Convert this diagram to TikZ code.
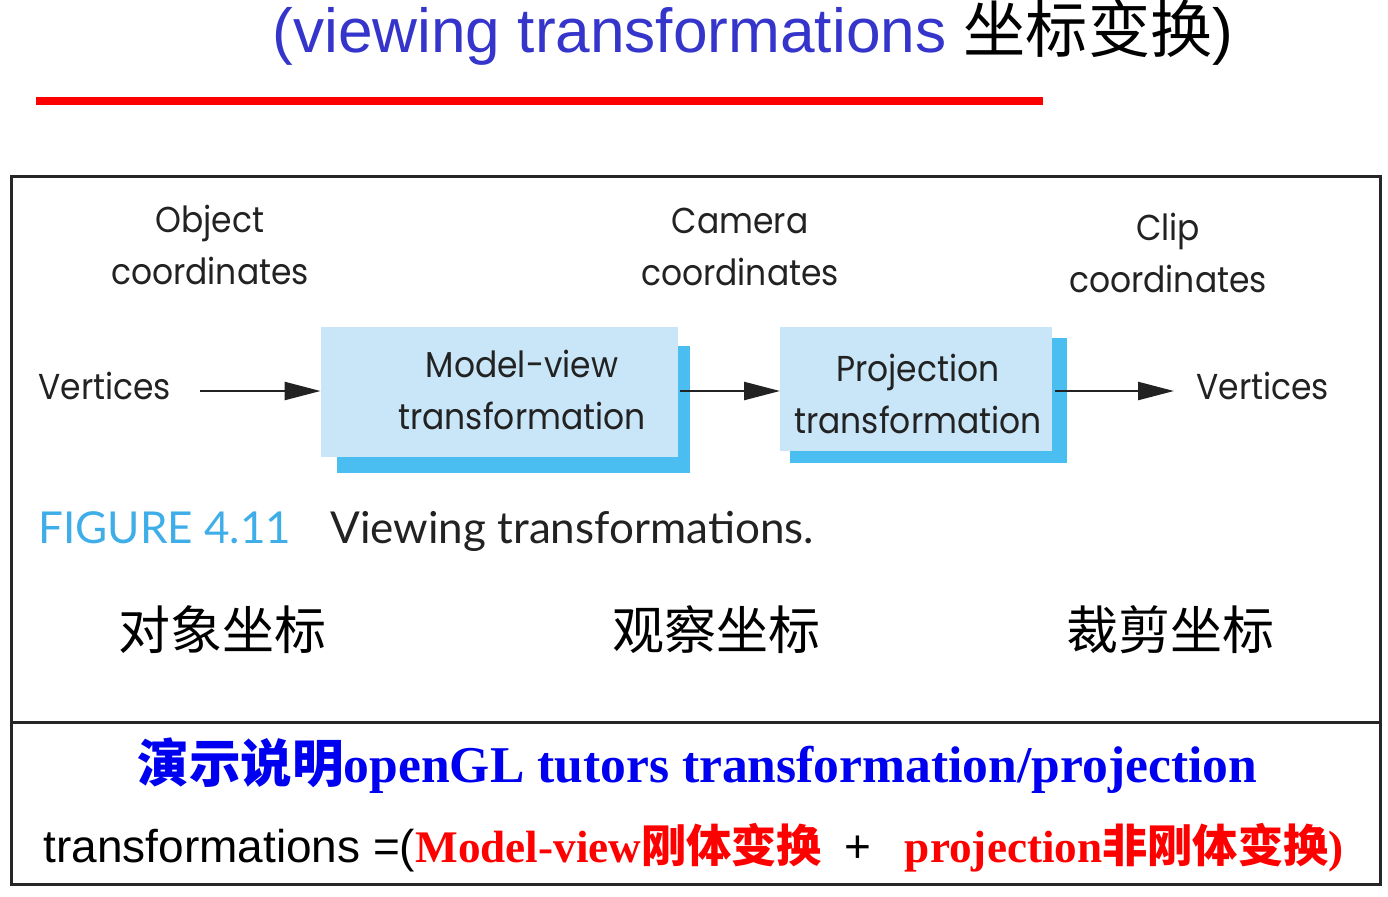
\documentclass[tikz,border=0pt]{standalone}
\usepackage{fontspec}
\usetikzlibrary{arrows.meta}
\setmainfont{Liberation Serif}
\newfontfamily\arialf{Liberation Sans}
\newfontfamily\futf{Poppins}
\newfontfamily\capf{Lato}
\newfontfamily\cjk{Noto Sans CJK SC}
\newfontfamily\cjkb{Noto Sans CJK SC Bold}
\newcommand{\sqz}[1]{\scalebox{0.915}[1]{#1}}
\definecolor{titleblue}{HTML}{3535CC}
\definecolor{frontblue}{HTML}{C8E6F8}
\definecolor{shadeblue}{HTML}{4BBEF1}
\definecolor{capblue}{HTML}{3FAEE8}
\definecolor{txtblue}{HTML}{0000F0}
\definecolor{txtred}{HTML}{FF0000}
\definecolor{txtgray}{HTML}{222222}
\tikzset{
  front/.style={fill=frontblue, draw=none, inner sep=0pt},
  shade/.style={fill=shadeblue, draw=none, inner sep=0pt},
  blocklbl/.style={font=\futf\fontsize{18}{26}\selectfont, text=txtgray, align=center, inner sep=0pt},
  coordlbl/.style={font=\futf\fontsize{18}{26}\selectfont, text=txtgray, align=center, inner sep=0pt},
  flow/.style={draw=txtgray, line width=1.2pt, -{Triangle[length=18pt,width=9pt]}},
  cnlbl/.style={font=\cjk\fontsize{26}{30}\selectfont, inner sep=0pt},
}
\begin{document}
\begin{tikzpicture}[x=0.5pt,y=-0.5pt]
\useasboundingbox (0,0) rectangle (1388,896);
% title
\node[anchor=base west, inner sep=0pt, font=\arialf\fontsize{31.1}{36}\selectfont] (title) at (272,52)
  {\textcolor{titleblue}{(viewing transformations }{\cjk 坐标变换})};
\draw[txtred, line width=4pt] (36,101) -- (1043,101);
% frame
\draw[line width=1.5pt, draw=black!85] (11,176) rectangle (1380,884);
\draw[line width=1.5pt, draw=black!85] (11,722) -- (1380,722);
% coordinate labels
\node[coordlbl] (objc) at (210,245) {\sqz{Object}\\\sqz{coordinates}};
\node[coordlbl] (camc) at (740,247) {\sqz{Camera}\\\sqz{coordinates}};
\node[coordlbl] (clipc) at (1168,253) {\sqz{Clip}\\\sqz{coordinates}};
% blocks
\node[shade, minimum width=176.5pt, minimum height=63.5pt] (mvs) at (513.5,409.5) {};
\node[front, minimum width=178.5pt, minimum height=65pt] (mv) at (499.5,392) {};
\node[blocklbl] (mvt) at (522,390) {\sqz{Model-view}\\\sqz{transformation}};
\node[shade, minimum width=138.5pt, minimum height=62.5pt] (pjs) at (928.5,400.5) {};
\node[front, minimum width=136pt, minimum height=62pt] (pj) at (916,389) {};
\node[blocklbl] (pjt) at (918,394) {\sqz{Projection}\\\sqz{transformation}};
% vertices
\node[coordlbl, anchor=west] (vin) at (38,386) {\sqz{Vertices}};
\node[coordlbl, anchor=west] (vout) at (1196,386) {\sqz{Vertices}};
\coordinate (a1s) at (200,391);
\coordinate (a2s) at (680,391);
\coordinate (a2e) at (780,391);
\coordinate (a3s) at (1055,391);
\coordinate (a3e) at (1174,391);
\draw[flow] (a1s) -- (mv.west |- a1s);
\draw[flow] (a2s) -- (a2e);
\draw[flow] (a3s) -- (a3e);
% caption
\node[anchor=base west, inner sep=0pt, font=\capf\fontsize{22}{26}\selectfont, text=capblue] (fig) at (38,543) {FIGURE 4.11};
\node[anchor=base west, inner sep=0pt, font=\capf\fontsize{22}{26}\selectfont, text=txtgray] (figt) at (330,543) {Viewing transformations.};
% chinese labels
\node[cnlbl, anchor=west] (c1) at (118,630) {对象坐标};
\node[cnlbl, anchor=west] (c2) at (612,630) {观察坐标};
\node[cnlbl, anchor=west] (c3) at (1066,630) {裁剪坐标};
% bottom text
\node[anchor=base west, inner sep=0pt, text=txtblue, font=\bfseries\fontsize{25.8}{30}\selectfont] (demo) at (137,782)
  {{\cjkb 演示说明}openGL tutors transformation/projection};
\node[anchor=base west, inner sep=0pt, font=\fontsize{23}{28}\selectfont] (eq) at (43,862)
  {{\arialf transformations =(}\textcolor{txtred}{\bfseries\fontsize{22.6}{28}\selectfont Model-view{\cjkb 刚体变换}}\hspace{11pt}{\arialf +}\hspace{17pt}\textcolor{txtred}{\bfseries\fontsize{22.6}{28}\selectfont projection{\cjkb 非刚体变换})}};
\end{tikzpicture}
\end{document}
